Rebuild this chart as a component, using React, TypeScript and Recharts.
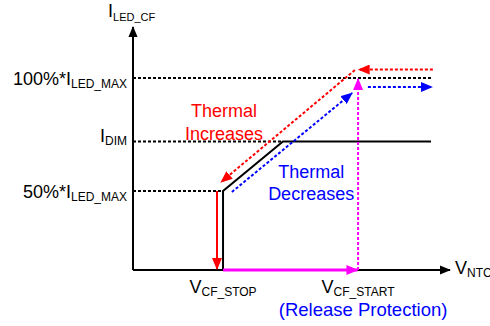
import { ComposedChart, Line, XAxis, YAxis, ReferenceLine, ReferenceDot } from 'recharts';

const FONT = '"Liberation Sans", Arial, sans-serif';

// vertical axis levels (schematic units, 0..100)
const levelValues = [79, 52.9, 32.5];
const levelMain = ['100%*I', 'I', '50%*I'];
const levelSub = ['LED_MAX', 'DIM', 'LED_MAX'];
const levelGuideEnd = [94.6, 47.3, 28.4];

// V_NTC thresholds on the horizontal axis
const thresholdValues = [28.4, 71];
const thresholdSub = ['CF_STOP', 'CF_START'];
const thresholdNote = ['', '(Release Protection)'];

// derating curve
const curveX = [0, 28.4, 28.4, 47.3, 94];
const curveY = [0, 0, 32.5, 52.9, 52.9];

// hysteresis arrows (start, end)
const redReturnX = [94.6, 71.2];
const redReturnY = [82.5, 82.5];
const redRampX = [70.0, 27.8];
const redRampY = [82.3, 36.2];
const redDropX = [26.5, 26.5];
const redDropY = [32.5, 0.4];
const blueRampX = [31.2, 69.1];
const blueRampY = [32.1, 72.8];
const blueExitX = [74.1, 94.3];
const blueExitY = [75.3, 75.3];
const releaseX = [28.4, 70.8];
const releaseY = [0, 0];
const releaseUpX = [71, 71];
const releaseUpY = [0, 78.6];

const curveData = curveX.map((x, i) => ({ x, y: curveY[i] }));
const seg = (xs: number[], ys: number[]) => [
  { x: xs[0], y: ys[0] },
  { x: xs[1], y: ys[1] },
];

const COLORS: Record<string, string> = {
  black: '#000000',
  red: '#FF0000',
  blue: '#0000FF',
  magenta: '#FF00FF',
};

const arrowShape = (color: string, width: number, dash?: string, marker = true) => (p: any) => (
  <line
    x1={p.x1}
    y1={p.y1}
    x2={p.x2}
    y2={p.y2}
    stroke={COLORS[color]}
    strokeWidth={width}
    strokeDasharray={dash}
    markerEnd={marker ? `url(#ah-${color})` : undefined}
  />
);

function LevelTick(props: any) {
  const { x, y, payload } = props;
  const i = levelValues.indexOf(payload.value);
  if (i < 0) return null;
  // I_DIM sits on top of its line, the others are centred
  const base = levelSub[i] === 'DIM' ? y + 0.5 : y + 7;
  return (
    <text x={x - 6} y={base} textAnchor="end" fontFamily={FONT} fontSize={18} fill="#000">
      {levelMain[i]}
      <tspan fontSize={12} dy={3}>{levelSub[i]}</tspan>
    </text>
  );
}

function ThresholdTick(props: any) {
  const { x, y, payload } = props;
  const i = thresholdValues.indexOf(payload.value);
  if (i < 0) return null;
  return (
    <g>
      <text x={x} y={y + 23} textAnchor="middle" fontFamily={FONT} fontSize={18} fill="#000">
        V<tspan fontSize={12} dy={3}>{thresholdSub[i]}</tspan>
      </text>
      {thresholdNote[i] && (
        <text x={x + 5} y={y + 46} textAnchor="middle" fontFamily={FONT} fontSize={18.5} fill="#0000FF">
          {thresholdNote[i]}
        </text>
      )}
    </g>
  );
}

const twoLines = (a: string, b: string, color: string, gap: number) => (p: any) => (
  <text x={p.cx} y={p.cy} textAnchor="middle" fontFamily={FONT} fontSize={18} fill={color}>
    <tspan x={p.cx}>{a}</tspan>
    <tspan x={p.cx} dy={gap}>{b}</tspan>
  </text>
);

export default function App() {
  return (
    <div style={{ position: 'absolute', left: 0, top: 0, width: 490, height: 326, background: '#fff' }}>
      <ComposedChart
        width={490}
        height={326}
        data={curveData}
        margin={{ top: 27, right: 40, bottom: 0, left: 0 }}
      >
        <defs>
          {Object.keys(COLORS).map((k) => (
            <marker
              key={k}
              id={`ah-${k}`}
              viewBox="0 0 12 10"
              refX={11}
              refY={5}
              markerWidth={k === 'black' ? 11 : 12}
              markerHeight={10}
              markerUnits="userSpaceOnUse"
              orient="auto"
            >
              <path d="M0,0 L12,5 L0,10 Z" fill={COLORS[k]} />
            </marker>
          ))}
        </defs>
        <XAxis
          dataKey="x"
          type="number"
          domain={[0, 100]}
          ticks={thresholdValues}
          height={56}
          axisLine={false}
          tickLine={false}
          tickSize={0}
          tickMargin={0}
          tick={<ThresholdTick />}
          interval={0}
        />
        <YAxis
          type="number"
          domain={[0, 100]}
          ticks={levelValues}
          width={133}
          axisLine={false}
          tickLine={false}
          tickSize={0}
          tickMargin={0}
          tick={<LevelTick />}
          interval={0}
        />

        {/* guide lines to the axis */}
        {levelValues.map((v, i) => (
          <ReferenceLine
            key={`g${i}`}
            segment={[{ x: 0, y: v }, { x: levelGuideEnd[i], y: v }]}
            ifOverflow="visible"
            shape={arrowShape('black', 2, '3 2', false)}
          />
        ))}

        <Line
          dataKey="y"
          type="linear"
          stroke="#000"
          strokeWidth={2}
          dot={false}
          activeDot={false}
          isAnimationActive={false}
        />

        {/* axes with arrow heads */}
        <ReferenceLine segment={[{ x: 0, y: 0 }, { x: 0, y: 100 }]} ifOverflow="visible" shape={arrowShape('black', 2)} />
        <ReferenceLine segment={[{ x: 0, y: 0 }, { x: 100, y: 0 }]} ifOverflow="visible" shape={arrowShape('black', 2)} />

        <ReferenceLine segment={seg(releaseX, releaseY)} ifOverflow="visible" shape={arrowShape('magenta', 3)} />
        <ReferenceLine segment={seg(releaseUpX, releaseUpY)} ifOverflow="visible" shape={arrowShape('magenta', 2, '3 2')} />
        <ReferenceLine segment={seg(redReturnX, redReturnY)} ifOverflow="visible" shape={arrowShape('red', 2, '3 2')} />
        <ReferenceLine segment={seg(redRampX, redRampY)} ifOverflow="visible" shape={arrowShape('red', 2, '3 2')} />
        <ReferenceLine segment={seg(redDropX, redDropY)} ifOverflow="visible" shape={arrowShape('red', 2)} />
        <ReferenceLine segment={seg(blueRampX, blueRampY)} ifOverflow="visible" shape={arrowShape('blue', 2, '3 2')} />
        <ReferenceLine segment={seg(blueExitX, blueExitY)} ifOverflow="visible" shape={arrowShape('blue', 2, '3 2')} />

        {/* axis titles */}
        <ReferenceDot
          x={0}
          y={100}
          ifOverflow="visible"
          shape={(p: any) => (
            <text x={p.cx - 25} y={p.cy - 10} fontFamily={FONT} fontSize={18} fill="#000">
              I<tspan fontSize={11} dy={4}>LED_CF</tspan>
            </text>
          )}
        />
        <ReferenceDot
          x={100}
          y={0}
          ifOverflow="visible"
          shape={(p: any) => (
            <text x={p.cx + 5} y={p.cy + 4} fontFamily={FONT} fontSize={18} fill="#000">
              V<tspan fontSize={12} dy={3}>NTC</tspan>
            </text>
          )}
        />

        {/* annotations */}
        <ReferenceDot x={28.7} y={63} ifOverflow="visible" shape={twoLines('Thermal', 'Increases', '#FF0000', 23)} />
        <ReferenceDot x={56.2} y={37.9} ifOverflow="visible" shape={twoLines('Thermal', 'Decreases', '#0000FF', 22)} />
      </ComposedChart>
    </div>
  );
}
